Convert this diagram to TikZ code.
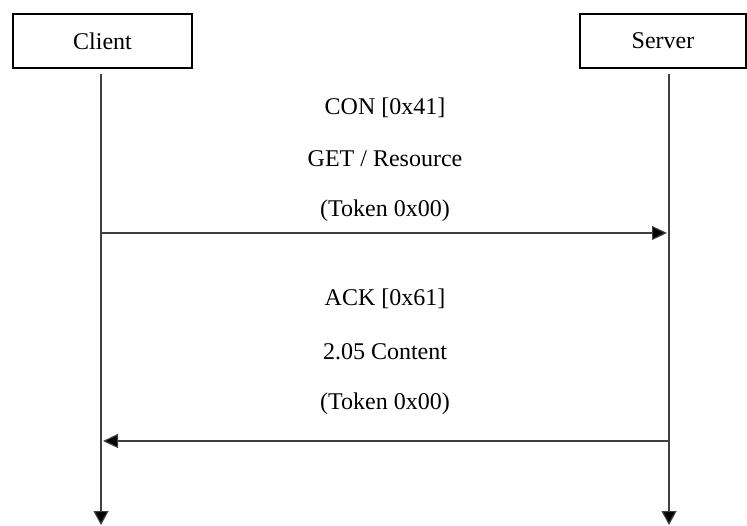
\documentclass[tikz,border=0pt]{standalone}
\usepackage{fontspec}
\setmainfont{Liberation Serif}
\usetikzlibrary{arrows.meta}
\begin{document}
\begin{tikzpicture}[x=0.5pt,y=-0.5pt,
  actor/.style={draw=black,line width=1.1pt,minimum width=#1*0.5pt,minimum height=27pt,inner sep=0pt,font=\fontsize{12}{14}\selectfont},
  msgtext/.style={font=\fontsize{12}{14}\selectfont,inner sep=0pt},
  life/.style={draw=black!75,line width=0.6pt,-{Triangle[width=7.5pt,length=7pt,fill=black]}},
  msg/.style={draw=black!75,line width=0.6pt,-{Triangle[width=7pt,length=7.5pt,fill=black]}}]
\useasboundingbox (0,0) rectangle (747,525);
\node[actor=179] (client) at (102.5,41) {Client};
\node[actor=166] (server) at (663,41) {Server};
\coordinate (cs) at (101,74);
\coordinate (ce) at (101,525);
\coordinate (ss) at (669,74);
\coordinate (se) at (669,525);
\draw[life] (cs) -- (ce);
\draw[life] (ss) -- (se);
\node[msgtext] (t1) at (385,108) {CON [0x41]};
\node[msgtext] (t2) at (385,159) {GET / Resource};
\node[msgtext] (t3) at (385,211) {(Token 0x00)};
\node[msgtext] (t4) at (385,299) {ACK [0x61]};
\node[msgtext] (t5) at (385,352) {2.05 Content};
\node[msgtext] (t6) at (385,404) {(Token 0x00)};
\coordinate (a1s) at (101,233);
\coordinate (a1e) at (667,233);
\coordinate (a2s) at (669,441);
\coordinate (a2e) at (103,441);
\draw[msg] (a1s) -- (a1e);
\draw[msg] (a2s) -- (a2e);
\end{tikzpicture}
\end{document}
